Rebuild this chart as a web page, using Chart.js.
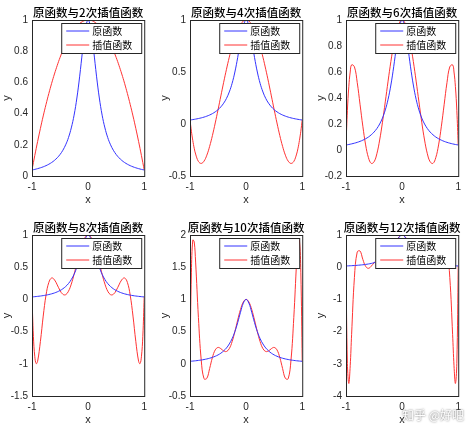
<!DOCTYPE html>
<html>
<head>
<meta charset="utf-8">
<script src="https://cdn.jsdelivr.net/npm/chart.js@4/dist/chart.umd.min.js"></script>
<style>
  body { margin: 0; background: #fff; width: 472px; height: 429px; position: relative; overflow: hidden; }
  .cell { position: absolute; }
  #mark { position: absolute; right: 8px; bottom: 6px; font: 12px "Noto Sans CJK SC"; color: #fff; text-shadow: 0 0 2px #555; }
</style>
</head>
<body>
<div class="cell" style="left:0;top:0;width:152px;height:207px"><canvas id="c2"></canvas></div>
<div class="cell" style="left:158px;top:0;width:152px;height:207px"><canvas id="c4"></canvas></div>
<div class="cell" style="left:314px;top:0;width:152px;height:207px"><canvas id="c6"></canvas></div>
<div class="cell" style="left:0;top:215px;width:152px;height:212px"><canvas id="c8"></canvas></div>
<div class="cell" style="left:158px;top:215px;width:152px;height:212px"><canvas id="c10"></canvas></div>
<div class="cell" style="left:314px;top:215px;width:152px;height:212px"><canvas id="c12"></canvas></div>
<div id="mark">知乎 @好吧</div>
<script>
// sample positions, right half (left half is the mirror)
const xHalf = [0, 0.05, 0.1, 0.15, 0.2, 0.25, 0.3, 0.35, 0.4, 0.45, 0.5, 0.55, 0.6, 0.65, 0.7, 0.75, 0.8, 0.85, 0.9, 0.925, 0.95, 0.975, 1];

// values read per sample position (x >= 0), curves are even
const original = [1, 0.941, 0.8, 0.64, 0.5, 0.39, 0.308, 0.246, 0.2, 0.165, 0.138, 0.117, 0.1, 0.0865, 0.0755, 0.0664, 0.0588, 0.0525, 0.0471, 0.0447, 0.0424, 0.0404, 0.0385];
const interp2 = [1, 0.998, 0.990, 0.978, 0.962, 0.940, 0.914, 0.882, 0.846, 0.805, 0.760, 0.709, 0.654, 0.594, 0.529, 0.459, 0.385, 0.305, 0.221, 0.177, 0.132, 0.086, 0.0385];
const interp4 = [1, 0.989, 0.958, 0.905, 0.834, 0.746, 0.642, 0.526, 0.401, 0.270, 0.138, 0.010, -0.110, -0.215, -0.300, -0.357, -0.379, -0.360, -0.289, -0.233, -0.159, -0.070, 0.0385];
const interp6 = [1, 0.978, 0.914, 0.813, 0.681, 0.530, 0.370, 0.214, 0.077, -0.029, -0.091, -0.103, -0.059, 0.039, 0.183, 0.352, 0.519, 0.640, 0.655, 0.600, 0.487, 0.305, 0.0385];
const interp8 = [1, 0.967, 0.874, 0.733, 0.564, 0.390, 0.237, 0.127, 0.073, 0.079, 0.138, 0.225, 0.305, 0.333, 0.264, 0.0664, -0.259, -0.652, -0.961, -0.998, -0.891, -0.574, 0.0385];
const interp10 = [1, 0.959, 0.843, 0.679, 0.5, 0.343, 0.235, 0.191, 0.2, 0.235, 0.254, 0.216, 0.1, -0.073, -0.226, -0.232, 0.0588, 0.720, 1.580, 1.892, 1.922, 1.423, 0.0385];
const interp12 = [1, 0.952, 0.823, 0.650, 0.479, 0.351, 0.282, 0.261, 0.254, 0.220, 0.138, 0.031, -0.035, 0.026, 0.243, 0.503, 0.473, -0.322, -2.085, -3.06, -3.611, -2.994, 0.0385];

const panels = [
  { id: "c2", title: "原函数与2次插值函数", values: interp2, min: 0, max: 1, step: 0.2 },
  { id: "c4", title: "原函数与4次插值函数", values: interp4, min: -0.5, max: 1, step: 0.5 },
  { id: "c6", title: "原函数与6次插值函数", values: interp6, min: -0.2, max: 1, step: 0.2 },
  { id: "c8", title: "原函数与8次插值函数", values: interp8, min: -1.5, max: 1, step: 0.5 },
  { id: "c10", title: "原函数与10次插值函数", values: interp10, min: -0.5, max: 2, step: 0.5 },
  { id: "c12", title: "原函数与12次插值函数", values: interp12, min: -4, max: 1, step: 1 },
];

const FONT = "'Liberation Sans', Arial, sans-serif";

function points(vals) {
  const left = xHalf.slice(1).reverse().map((x, i) => ({ x: -x, y: vals[xHalf.length - 1 - i] }));
  const right = xHalf.map((x, i) => ({ x: x, y: vals[i] }));
  return left.concat(right);
}

const tickLabel = v => {
  let r = Math.round(v * 100) / 100;
  if (r === 0) r = 0;
  return String(r);
};

const frame = {
  id: "frame",
  afterDraw(chart, args, opts) {
    const { ctx, chartArea: a } = chart;
    ctx.save();
    ctx.strokeStyle = "#262626";
    ctx.lineWidth = 1;
    ctx.strokeRect(a.left + 0.5, a.top + 0.5, a.right - a.left, a.bottom - a.top);
    // title
    ctx.fillStyle = "#000";
    ctx.font = "500 11.5px 'Noto Sans CJK SC'";
    ctx.textAlign = "center";
    ctx.textBaseline = "bottom";
    ctx.fillText(opts.title, (a.left + a.right) / 2, a.top - 2);
    // legend
    const w = 80, h = 30, lx = a.right - w - 3, ly = a.top + 3;
    ctx.fillStyle = "#fff";
    ctx.fillRect(lx, ly, w, h);
    ctx.strokeStyle = "#262626";
    ctx.strokeRect(lx + 0.5, ly + 0.5, w, h);
    ctx.font = "10px 'Noto Sans CJK SC'";
    ctx.textAlign = "left";
    ctx.textBaseline = "middle";
    [["原函数", "#3333ff"], ["插值函数", "#ff3333"]].forEach(([t, c], i) => {
      const yy = ly + 8 + i * 14;
      ctx.strokeStyle = c;
      ctx.beginPath(); ctx.moveTo(lx + 5, yy); ctx.lineTo(lx + 28, yy); ctx.stroke();
      ctx.fillStyle = "#000";
      ctx.fillText(t, lx + 31, yy);
    });
    ctx.restore();
  }
};

panels.forEach(p => {
  new Chart(document.getElementById(p.id), {
    type: "line",
    data: {
      datasets: [
        { data: points(original), borderColor: "#3333ff", borderWidth: 1, pointRadius: 0, tension: 0.4 },
        { data: points(p.values), borderColor: "#ff3333", borderWidth: 1, pointRadius: 0, tension: 0.4 },
      ]
    },
    options: {
      responsive: true,
      maintainAspectRatio: false,
      animation: false,
      layout: { padding: { top: 20, right: 4 } },
      plugins: { legend: { display: false }, tooltip: { enabled: false }, frame: { title: p.title } },
      scales: {
        x: {
          type: "linear", min: -1, max: 1,
          grid: { display: false, drawTicks: false },
          ticks: { stepSize: 1, padding: 5, color: "#262626", font: { size: 10, family: FONT }, maxRotation: 0, callback: tickLabel },
          title: { display: true, text: "x", color: "#262626", font: { size: 11, family: FONT }, padding: { top: 2, bottom: 0 } },
          afterFit: s => { s.height = 31; }
        },
        y: {
          min: p.min, max: p.max,
          grid: { display: false, drawTicks: false },
          ticks: { stepSize: p.step, padding: 4, color: "#262626", font: { size: 10, family: FONT }, callback: tickLabel },
          title: { display: true, text: "y", color: "#262626", font: { size: 11, family: FONT }, padding: 0 },
          afterFit: s => { s.width = 32; }
        }
      }
    },
    plugins: [frame]
  });
});
</script>
</body>
</html>
